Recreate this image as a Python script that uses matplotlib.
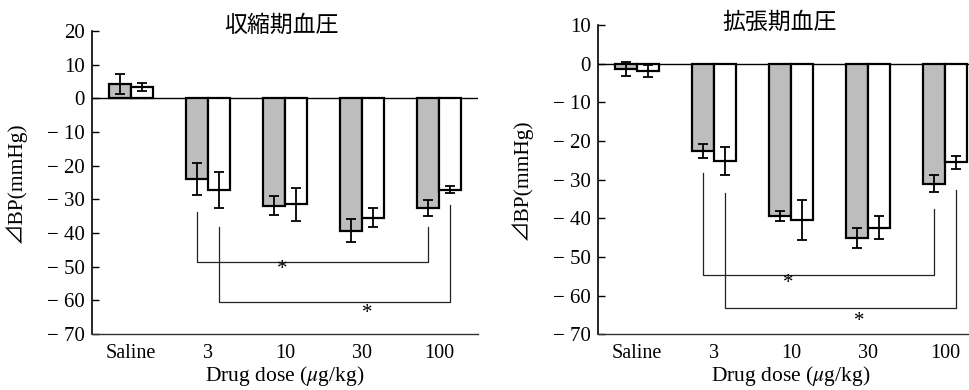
import numpy as np
import matplotlib
matplotlib.use("Agg")
import matplotlib.pyplot as plt

plt.rcParams['font.family'] = ['Liberation Serif', 'Noto Sans CJK JP', 'DejaVu Sans']
plt.rcParams['mathtext.fontset'] = 'stix'

doses = ["Saline", "3", "10", "30", "100"]

# 収縮期血圧 (systolic)
sys_gray = [4.3, -24.0, -31.9, -39.3, -32.6]
sys_gray_err = [3.0, 4.8, 2.8, 3.4, 2.3]
sys_white = [3.4, -27.2, -31.5, -35.4, -27.1]
sys_white_err = [1.2, 5.3, 5.0, 2.8, 1.0]

# 拡張期血圧 (diastolic)
dia_gray = [-1.4, -22.6, -39.4, -45.1, -31.1]
dia_gray_err = [1.8, 1.7, 1.4, 2.7, 2.2]
dia_white = [-1.9, -25.2, -40.5, -42.4, -25.5]
dia_white_err = [1.5, 3.6, 5.2, 3.0, 1.7]

# significance brackets: (bar, top at dose 3, top at dose 100, level, star x, star y)
sys_brackets = [("g", -33.7, -38.2, -48.5, 1.97, -50.9), ("w", -38.2, -31.8, -60.4, 3.07, -63.8)]
dia_brackets = [("g", -28.3, -37.5, -54.6, 1.97, -56.9), ("w", -33.4, -32.6, -63.3, 2.88, -66.7)]

w = 0.285


def draw(ax, gray, gerr, white, werr, brackets, ylim, yticks, title, tpos):
    x = np.arange(len(doses))
    ax.bar(x - w / 2, gray, w, color="#bdbdbd", edgecolor="black", linewidth=1.6, zorder=2)
    ax.bar(x + w / 2, white, w, color="white", edgecolor="black", linewidth=1.6, zorder=2)
    ax.errorbar(x - w / 2, gray, yerr=gerr, fmt="none", ecolor="black",
                elinewidth=1.3, capsize=3.8, capthick=1.3, zorder=3)
    ax.errorbar(x + w / 2, white, yerr=werr, fmt="none", ecolor="black",
                elinewidth=1.3, capsize=3.8, capthick=1.3, zorder=3)
    ax.axhline(0, color="black", linewidth=1.0, zorder=1)

    for kind, top1, top2, level, sx, sy in brackets:
        off = -w / 2 if kind == "g" else w / 2
        x1 = x[1] + off
        x2 = x[4] + off
        ax.plot([x1, x1, x2, x2], [top1, level, level, top2], color="#222222",
                linewidth=0.9, zorder=1)
        ax.text(sx, sy, "*", ha="center", va="center", fontsize=15)

    ax.set_xlim(-0.5, 4.5)
    ax.set_ylim(*ylim)
    ax.set_yticks(yticks)
    ax.set_yticklabels([("\u2212 " + str(-t)) if t < 0 else str(t) for t in yticks])
    ax.set_xticks(x)
    ax.set_xticklabels(doses)
    ax.tick_params(axis="y", direction="in", length=5, width=1.0, labelsize=15, pad=5)
    ax.tick_params(axis="x", length=0, labelsize=14.5, pad=7)
    for s in ["top", "right"]:
        ax.spines[s].set_visible(False)
    ax.spines["left"].set_linewidth(1.2)
    ax.spines["bottom"].set_linewidth(1.0)
    ax.spines["bottom"].set_color("#333333")
    ax.set_ylabel("\u22bfBP(mmHg)", fontsize=15.5)
    ax.yaxis.set_label_coords(-0.17, 0.5)
    ax.set_xlabel(r"Drug dose ($\mathit{\mu}$g/kg)", fontsize=15.5, labelpad=1)
    ax.text(tpos[0], tpos[1], title, transform=ax.transAxes, ha="center", va="center",
            fontsize=16.5, family=["Noto Sans CJK JP"])


fig = plt.figure(figsize=(9.7, 3.9), dpi=100)
ax1 = fig.add_axes([92 / 970, 56 / 390, 386 / 970, 303 / 390])
ax2 = fig.add_axes([598 / 970, 55.7 / 390, 386 / 970, 309.3 / 390])

draw(ax1, sys_gray, sys_gray_err, sys_white, sys_white_err, sys_brackets,
     (-70, 20), list(range(20, -71, -10)), "収縮期血圧", (0.49, 1.02))
draw(ax2, dia_gray, dia_gray_err, dia_white, dia_white_err, dia_brackets,
     (-70, 10), list(range(10, -71, -10)), "拡張期血圧", (0.47, 1.01))

fig.savefig("out.png", dpi=100)
